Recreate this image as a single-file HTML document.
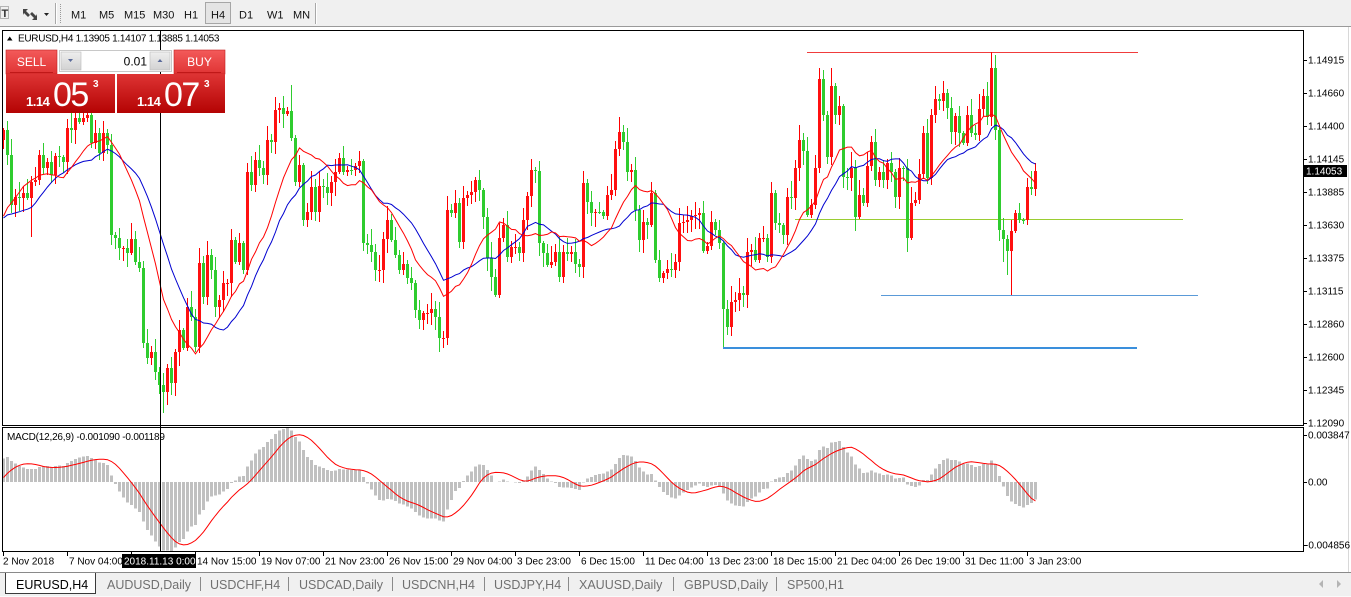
<!DOCTYPE html>
<html><head><meta charset="utf-8">
<style>
*{margin:0;padding:0}
html,body{width:1351px;height:597px;overflow:hidden;background:#fff}
svg{position:absolute;left:0;top:0;font-family:"Liberation Sans","DejaVu Sans",sans-serif}
</style></head>
<body>
<svg id="s" width="1351" height="597" viewBox="0 0 1351 597" xmlns="http://www.w3.org/2000/svg">
<defs>
<clipPath id="cm"><rect x="3" y="31" width="1300" height="394"/></clipPath>
<clipPath id="cd"><rect x="3" y="428" width="1300" height="123"/></clipPath>
<linearGradient id="gb" x1="0" y1="0" x2="0" y2="1"><stop offset="0" stop-color="#f35a5a"/><stop offset="1" stop-color="#e03434"/></linearGradient>
<linearGradient id="gp" x1="0" y1="0" x2="0" y2="1"><stop offset="0" stop-color="#de3434"/><stop offset="1" stop-color="#b40303"/></linearGradient>
<linearGradient id="gs" x1="0" y1="0" x2="0" y2="1"><stop offset="0" stop-color="#eeeeee"/><stop offset="1" stop-color="#d2d2d2"/></linearGradient>
</defs>
<!-- toolbar -->
<rect x="0" y="0" width="1351" height="26" fill="#f0f0f0"/>
<rect x="0" y="26" width="1351" height="1" fill="#9a9a9a"/>
<rect x="0.5" y="6.5" width="8" height="12" fill="none" stroke="#777" stroke-dasharray="1,1"/>
<text x="1.5" y="17" font-size="11" font-weight="bold" fill="#333">T</text>
<path d="M23 9l5 0-2 2 4 4-2 2-4-4-1 2z M37 20l-5 0 2-2-4-4 2-2 4 4 1-2z" fill="#444"/>
<path d="M44 13h5l-2.5 3z" fill="#222"/>
<rect x="55" y="3" width="1" height="21" fill="#a8a8a8"/><rect x="56" y="3" width="1" height="21" fill="#fff"/>
<line x1="60.5" y1="4" x2="60.5" y2="23" stroke="#9a9a9a" stroke-dasharray="1,1"/>
<rect x="205.5" y="2.5" width="25" height="21" fill="#e4e4e4" stroke="#a6a6a6"/>
<g font-size="11" fill="#111">
<text x="71" y="18.5">M1</text><text x="99" y="18.5">M5</text><text x="124" y="18.5">M15</text><text x="153" y="18.5">M30</text>
<text x="184" y="18.5">H1</text><text x="211" y="18.5">H4</text><text x="239" y="18.5">D1</text><text x="267" y="18.5">W1</text><text x="293" y="18.5">MN</text>
</g>
<rect x="315" y="3" width="1" height="21" fill="#a8a8a8"/><rect x="316" y="3" width="1" height="21" fill="#fff"/>

<!-- frames -->
<rect x="2.5" y="30.5" width="1301" height="395" fill="none" stroke="#000"/>
<rect x="2.5" y="427.5" width="1301" height="124" fill="none" stroke="#000"/>
<rect x="1348" y="27" width="1" height="545" fill="#d8d8d8"/>

<!-- horizontal objects -->
<g shape-rendering="crispEdges">
<rect x="807" y="52" width="331" height="1" fill="#f03c3c"/>
<rect x="795" y="219" width="388" height="1" fill="#9acd32"/>
<rect x="881" y="295" width="317" height="1" fill="#5a9ad8"/>
<rect x="723" y="347" width="414" height="2" fill="#3a8fdc"/>
</g>

<g id="candles" clip-path="url(#cm)" shape-rendering="crispEdges"></g>
<g id="mas" clip-path="url(#cm)" fill="none" stroke-width="1"></g>
<g id="macd" clip-path="url(#cd)"></g>

<!-- crosshair -->
<rect x="160" y="31" width="1" height="520" fill="#000"/>

<!-- price axis -->
<g font-size="10" fill="#000">
<g id="pax"></g>
<rect x="1303" y="435" width="4" height="1" fill="#000"/><text x="1308" y="438.5">0.003847</text>
<rect x="1303" y="482" width="4" height="1" fill="#000"/><text x="1308" y="485.5">0.00</text>
<rect x="1303" y="545" width="4" height="1" fill="#000"/><text x="1305" y="548.5">-0.004856</text>
<rect x="1304" y="165" width="43" height="12" fill="#000"/>
<text x="1306" y="174.5" fill="#fff">1.14053</text>
</g>

<!-- time axis -->
<g id="tax" font-size="10" fill="#000"></g>
<rect x="122" y="554" width="74" height="14" fill="#000"/>
<text x="124" y="564.5" font-size="10" fill="#fff">2018.11.13 0:00</text>

<!-- header texts -->
<path d="M7 40.5h5.5l-2.75-4z" fill="#000"/>
<text x="18" y="41.5" font-size="10" letter-spacing="-0.3" fill="#000">EURUSD,H4  1.13905 1.14107 1.13885 1.14053</text>
<text x="7" y="440" font-size="10" letter-spacing="-0.2" fill="#000">MACD(12,26,9) -0.001090 -0.001189</text>

<!-- trade panel -->
<rect x="6" y="50" width="51" height="24" fill="url(#gb)" stroke="#c42020" stroke-width="0.6"/>
<rect x="10" y="72" width="43" height="1" fill="#c01818"/>
<text x="31.5" y="66" font-size="12" fill="#fff" text-anchor="middle">SELL</text>
<rect x="174" y="50" width="51" height="24" fill="url(#gb)" stroke="#c42020" stroke-width="0.6"/>
<rect x="177" y="72" width="44" height="1" fill="#c01818"/>
<text x="199.5" y="66" font-size="12" fill="#fff" text-anchor="middle">BUY</text>
<rect x="59.5" y="50.5" width="112" height="21" fill="#fff" stroke="#c8c8c8"/>
<rect x="61" y="52" width="20" height="18" fill="url(#gs)" stroke="#bbb" stroke-width="0.6"/>
<path d="M68 59h5l-2.5 3z" fill="#5a6a9a"/>
<rect x="150" y="52" width="20" height="18" fill="url(#gs)" stroke="#bbb" stroke-width="0.6"/>
<path d="M157.5 62h5l-2.5-3z" fill="#5a6a9a"/>
<text x="147" y="65.5" font-size="12" fill="#000" text-anchor="end">0.01</text>
<rect x="6" y="74" width="109" height="39" fill="url(#gp)"/>
<rect x="117" y="74" width="108" height="39" fill="url(#gp)"/>
<g fill="#fff">
<text x="26" y="106" font-size="13" font-weight="bold" letter-spacing="-0.5">1.14</text>
<text x="53" y="106" font-size="34" letter-spacing="-1.5">05</text>
<text x="93" y="87" font-size="10" font-weight="bold">3</text>
<text x="137" y="106" font-size="13" font-weight="bold" letter-spacing="-0.5">1.14</text>
<text x="164" y="106" font-size="34" letter-spacing="-1.5">07</text>
<text x="204" y="87" font-size="10" font-weight="bold">3</text>
</g>

<!-- tabs -->
<rect x="0" y="572" width="1351" height="25" fill="#f0f0f0"/>
<rect x="0" y="572" width="1351" height="1" fill="#8a8a8a"/>
<rect x="0" y="596" width="1351" height="1" fill="#fafafa"/>
<path d="M5.5 573v20.5h90v-20.5" fill="#fff" stroke="#3a3a3a"/>
<text x="16" y="589" font-size="12.5" fill="#000">EURUSD,H4</text>
<g font-size="12.5" fill="#707070">
<text x="107" y="589">AUDUSD,Daily</text>
<text x="210" y="589">USDCHF,H4</text>
<text x="299" y="589">USDCAD,Daily</text>
<text x="402" y="589">USDCNH,H4</text>
<text x="494" y="589">USDJPY,H4</text>
<text x="579" y="589">XAUUSD,Daily</text>
<text x="684" y="589">GBPUSD,Daily</text>
<text x="787" y="589">SP500,H1</text>
</g>
<g fill="#8a8a8a">
<rect x="200" y="577" width="1" height="14"/><rect x="288" y="577" width="1" height="14"/>
<rect x="392" y="577" width="1" height="14"/><rect x="484" y="577" width="1" height="14"/>
<rect x="568" y="577" width="1" height="14"/><rect x="673" y="577" width="1" height="14"/>
<rect x="776" y="577" width="1" height="14"/>
</g>
<path d="M1323 580v8l-4-4z M1337 580v8l4-4z" fill="#b4b4b4"/>
</svg>
<script>
(function(){
var NS="http://www.w3.org/2000/svg";
function el(p,tag,attrs,txt){var e=document.createElementNS(NS,tag);for(var k in attrs)e.setAttribute(k,attrs[k]);if(txt!=null)e.textContent=txt;p.appendChild(e);return e;}
var C=[130,155,205,197,198,193,198,182,180,155,168,162,175,156,157,162,128,130,118,122,118,115,143,133,153,133,145,235,238,248,248,253,239,262,268,343,358,352,372,385,392,368,383,352,330,348,307,317,347,263,297,255,270,307,300,283,283,240,262,243,270,172,185,160,168,175,140,142,110,108,114,111,138,182,165,220,212,187,212,186,187,193,182,172,158,172,170,170,166,161,243,245,252,270,270,239,220,240,255,270,264,278,283,310,320,313,313,309,317,338,338,210,213,203,242,198,195,192,180,190,217,258,277,295,238,225,257,247,247,253,220,196,170,171,243,253,265,262,252,277,252,254,252,264,267,183,202,213,212,212,216,195,190,149,132,142,172,170,210,240,222,225,193,260,278,273,269,270,262,223,222,220,216,215,213,251,246,222,230,243,309,327,302,300,293,295,252,250,260,238,238,257,193,223,225,235,197,198,168,140,151,215,205,168,79,115,157,86,115,106,177,178,168,217,195,203,166,142,180,172,180,163,172,197,168,168,238,203,200,174,133,178,115,99,101,93,108,132,116,133,143,115,133,135,109,96,117,68,130,230,239,251,231,213,220,220,187,189,171];
var pads=[];for(var k=0;k<17;k++)pads.push(222);
pads=pads.concat([273,273,273,273,273,240,225,210,195,180,170,160,150]);
var F=pads.concat(C),P=pads.length,N=C.length;
var ov={2:[null,213],7:[null,237],18:[108,null],40:[null,413],41:[null,405],72:[85,null],110:[null,348],111:[null,345],180:[null,347],204:[68,null],205:[70,null],207:[68,null],226:[null,252],247:[52,null],250:[null,262],251:[null,275],252:[null,295]};
var rb="",gb="",rw="",gw="";
for(var i=0;i<N;i++){
 var x=3+4*i,c=C[i],o=i==0?140:C[i-1];
 var top=Math.min(o,c),bot=Math.max(o,c);
 var hi=top-(2+((i*37)%15)),lo=bot+(2+((i*53+7)%13));
 if(ov[i]){if(ov[i][0]!=null)hi=ov[i][0];if(ov[i][1]!=null)lo=ov[i][1];}
 var up=c<o||(c==o&&i%2==0);
 var h=Math.max(1,bot-top);
 var b="M"+(x-1)+" "+top+"h3v"+h+"h-3z";
 var w="M"+x+" "+hi+"h1v"+(lo-hi)+"h-1z";
 if(up){rb+=b;rw+=w;}else{gb+=b;gw+=w;}
}
var cg=document.getElementById("candles");
el(cg,"path",{d:gw,fill:"#2fcc2f"});el(cg,"path",{d:rw,fill:"#ff0000"});
el(cg,"path",{d:gb,fill:"#2fcc2f"});el(cg,"path",{d:rb,fill:"#ff1010"});
function sma(n,j){var s=0;for(var k=j-n+1;k<=j;k++)s+=F[Math.max(0,k)];return s/n;}
var r="",bl="";
for(var i=0;i<N;i++){var x=3+4*i+0.5;r+=(i?"L":"M")+x+" "+sma(14,P+i).toFixed(1);bl+=(i?"L":"M")+x+" "+sma(21,P+i).toFixed(1);}
var mg=document.getElementById("mas");
el(mg,"path",{d:bl,stroke:"#0000d0"});el(mg,"path",{d:r,stroke:"#ff0000"});
// MACD
var e12=F[0],e26=F[0],M=[];
for(var k=0;k<F.length;k++){e12+=(F[k]-e12)*2/13;e26+=(F[k]-e26)*2/27;M.push(-(e12-e26));}
var S=[];for(var k=0;k<F.length;k++){var s=0;for(var j=k-8;j<=k;j++)s+=M[Math.max(0,j)];S.push(s/9);}
var mx=0,mn=0;for(var i=0;i<N;i++){mx=Math.max(mx,M[P+i],S[P+i]);mn=Math.min(mn,M[P+i],S[P+i]);}
function my(v){return v>=0?482-v*(54/mx):482+(-v)*(69/(-mn));}
var hp="",sp="";
for(var i=0;i<N;i++){var x=3+4*i;var y=my(M[P+i]);var t=Math.min(482,y),bt=Math.max(482,y);
 hp+="M"+(x-1)+" "+t.toFixed(1)+"h3V"+bt.toFixed(1)+"h-3z";
 sp+=(i?"L":"M")+(x+0.5)+" "+my(S[P+i]).toFixed(1);}
var dg=document.getElementById("macd");
el(dg,"path",{d:hp,fill:"#c0c0c0","shape-rendering":"crispEdges"});
el(dg,"path",{d:sp,fill:"none",stroke:"#ff0000","stroke-width":"1"});
// price axis
var pax=document.getElementById("pax");
var lv=["1.14915","1.14660","1.14400","1.14145","1.13885","1.13630","1.13375","1.13115","1.12860","1.12600","1.12345","1.12090"];
for(var k=0;k<lv.length;k++){var y=Math.round(60+(1.14915-parseFloat(lv[k]))*12850);
 el(pax,"rect",{x:1303,y:y,width:4,height:1,fill:"#000"});
 if(lv[k]!="1.14145"||true)el(pax,"text",{x:1308,y:y+3.5},lv[k]);}
// time axis
var tax=document.getElementById("tax");
var tl=["2 Nov 2018","7 Nov 04:00","","14 Nov 15:00","19 Nov 07:00","21 Nov 23:00","26 Nov 15:00","29 Nov 04:00","3 Dec 23:00","6 Dec 15:00","11 Dec 04:00","13 Dec 23:00","18 Dec 15:00","21 Dec 04:00","26 Dec 19:00","31 Dec 11:00","3 Jan 23:00"];
for(var k=0;k<tl.length;k++){var x=3+64*k;
 el(tax,"rect",{x:x,y:552,width:1,height:4,fill:"#000"});
 if(tl[k])el(tax,"text",{x:(k==0?3:x+2),y:564.5},tl[k]);}
})();
</script>
</body></html>
